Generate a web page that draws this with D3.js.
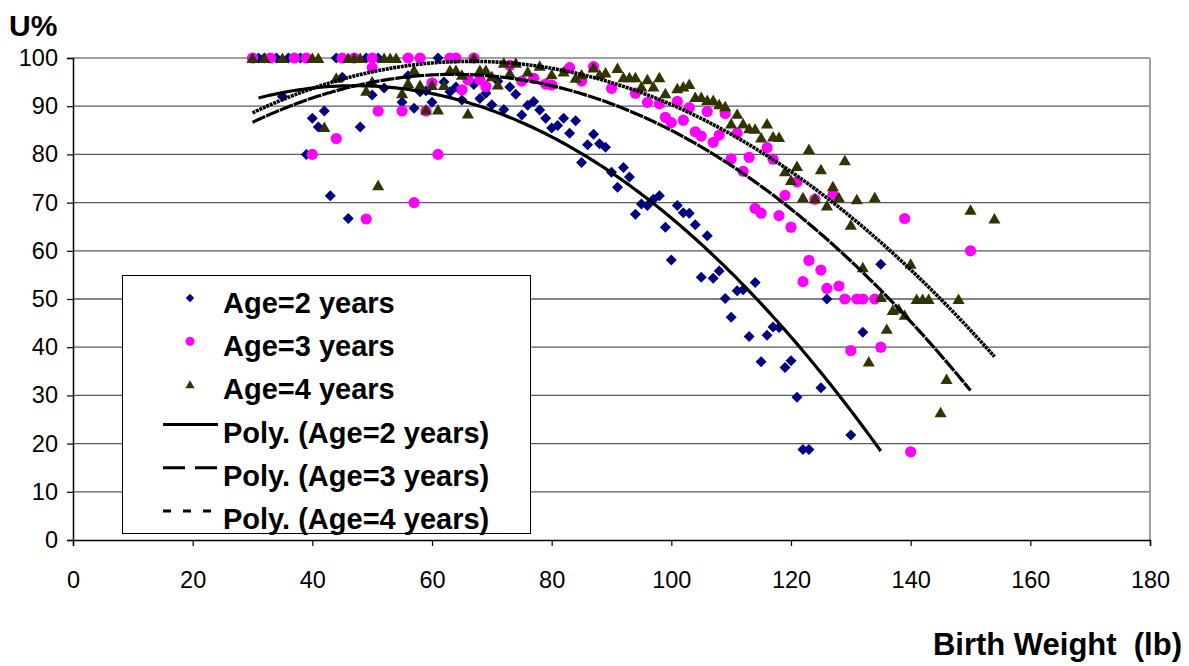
<!DOCTYPE html>
<html>
<head>
<meta charset="utf-8">
<script src="https://cdn.jsdelivr.net/npm/d3@7"></script>
<style>
    body { margin: 0; background: #fff; }
    svg { display: block; font-family: 'Liberation Sans', Arial, sans-serif; }
</style>
</head>
<body>
<script>
(function () {

    'use strict'

    // [birth weight (lb), U%]
    const age2Points = [
        [31, 100], [32, 100], [34, 100], [35, 92], [36, 100], [38, 100], [39, 80], [40, 87.5], [41, 85.7],
        [42, 89], [43, 71.4], [44, 100], [45, 96], [46, 66.7], [48, 85.7], [49, 100], [50, 92.3], [51, 100],
        [52, 93.8], [55, 90.8], [56, 96.3], [57, 89.6], [58, 93], [59, 93.2], [60, 90.8], [61, 100], [62, 95],
        [63, 93], [64, 94], [65, 91.3], [67, 94.5], [68, 91.6], [69, 92.7], [70, 90.3], [71, 95.2], [72, 89.3],
        [73, 94], [74, 92.5], [75, 88.2], [76, 90.2], [77, 91], [78, 89.2], [79, 87.5], [80, 85.5], [81, 86],
        [82, 87.5], [83, 84.4], [84, 87], [85, 78.3], [86, 82], [87, 84.2], [88, 82.2], [89, 81.5], [90, 76.3],
        [91, 73.2], [92, 77.3], [93, 75.3], [94, 67.6], [95, 69.7], [96, 69.4], [97, 70.7], [98, 71.4],
        [99, 64.9], [100, 58.1], [101, 69.4], [102, 67.9], [103, 67.8], [104, 65.4], [105, 54.5], [106, 63.1],
        [107, 54.3], [108, 55.8], [109, 50.1], [110, 46.2], [111, 51.7], [112, 51.9], [113, 42.2], [114, 53.4],
        [115, 37], [116, 42.5], [117, 44.2], [118, 44.1], [119, 35.8], [120, 37.2], [121, 29.6], [122, 18.8],
        [123, 18.8], [125, 31.6], [126, 50], [130, 21.8], [132, 43.1], [135, 57.2]
    ]

    const age3Points = [
        [30, 100], [33, 100], [37, 100], [39, 100], [40, 80], [44, 83.3], [45, 100], [47, 100], [49, 66.6],
        [50, 100], [50, 98], [51, 89], [55, 89], [56, 100], [57, 70], [58, 100], [59, 89], [60, 94.8], [61, 80],
        [63, 100], [64, 100], [65, 93.4], [66, 95.5], [67, 100], [68, 95.5], [69, 94.1], [73, 98.5], [75, 95.2],
        [77, 95.8], [79, 94.6], [80, 94.4], [83, 98], [85, 95.2], [87, 98.2], [90, 93.7], [94, 92.7], [96, 90.8],
        [98, 90.5], [99, 87.7], [100, 86.6], [101, 91], [102, 87.1], [103, 89.7], [104, 84.7], [105, 83.8],
        [106, 88.9], [107, 82.5], [108, 84], [109, 88.5], [110, 79.1], [111, 84.4], [112, 76.5], [113, 79.4],
        [114, 68.8], [115, 67.8], [116, 81.4], [117, 79], [118, 67.3], [119, 71.5], [120, 64.9], [121, 74.3],
        [122, 53.6], [123, 58], [124, 70.7], [125, 56], [126, 52.2], [127, 71.6], [128, 52.7], [129, 50],
        [130, 39.3], [131, 50], [132, 50], [134, 50], [135, 40], [139, 66.7], [140, 18.3], [150, 60]
    ]

    const age4Points = [
        [30, 100], [32, 100], [35, 100], [40, 100], [41, 100], [42, 85.7], [44, 95.9], [46, 100], [47, 100],
        [48, 100], [49, 93.2], [50, 95.1], [51, 73.6], [52, 100], [53, 100], [54, 100], [55, 92.7], [56, 94.8],
        [57, 97.5], [58, 94.4], [59, 89.3], [60, 94.4], [61, 89.3], [62, 94.4], [63, 97.5], [64, 97.5],
        [65, 96.5], [66, 88.5], [67, 100], [68, 97.5], [69, 97.5], [70, 96.2], [71, 94.5], [72, 99], [73, 96.9],
        [74, 99], [76, 97.2], [78, 98.4], [80, 96.6], [82, 97.2], [84, 95.9], [85, 96.6], [87, 98], [88, 96.6],
        [89, 97], [91, 97.9], [92, 96], [93, 96], [94, 96], [95, 94.1], [96, 95.6], [97, 94.1], [98, 96],
        [99, 92.7], [101, 93.7], [102, 94.1], [103, 94.6], [104, 91.9], [105, 91.9], [106, 91.3], [107, 91.3],
        [108, 90.4], [109, 90], [110, 86.4], [111, 88.4], [112, 86.4], [113, 85.4], [114, 85.3], [115, 83.5],
        [116, 86.4], [117, 83.7], [118, 83.6], [119, 76.5], [120, 74.7], [121, 77.6], [122, 71.1], [123, 81.1],
        [124, 70.9], [125, 76.9], [126, 69.4], [127, 73.4], [128, 71.1], [129, 78.8], [130, 65.4], [131, 70.7],
        [132, 56.6], [133, 37], [134, 71.1], [135, 50.4], [136, 43.8], [137, 47.7], [138, 48], [139, 46.7],
        [140, 57.3], [141, 50], [142, 50], [143, 50], [145, 26.5], [146, 33.4], [148, 50], [150, 68.5], [154, 66.7]
    ]

    const xTicks = [0, 20, 40, 60, 80, 100, 120, 140, 160, 180]
    const yTicks = [0, 10, 20, 30, 40, 50, 60, 70, 80, 90, 100]
    const seriesNames = ['Age=2 years', 'Age=3 years', 'Age=4 years']

    const width = 1189
        , height = 666
        , plot = { left: 73, right: 1150, top: 58, bottom: 540 }

    const series = [
        { name: seriesNames[0], points: age2Points, color: '#000080', shape: 'diamond', dash: null, lw: 3.2 },
        { name: seriesNames[1], points: age3Points, color: '#ff00ff', shape: 'circle', dash: '14,1', lw: 3.2 },
        { name: seriesNames[2], points: age4Points, color: '#333300', shape: 'triangle', dash: '3,0.8', lw: 3.6 }
    ]

    const svg = d3.select('body')
        .append('svg')
        .attr('width', width)
        .attr('height', height)

    const xScale = d3.scaleLinear().domain([0, 180]).range([plot.left, plot.right])
    const yScale = d3.scaleLinear().domain([0, 100]).range([plot.bottom, plot.top])

    // gridlines
    svg.append('g')
        .selectAll('line')
        .data(yTicks.filter(d => d > 0))
        .enter()
        .append('line')
        .attr('x1', plot.left)
        .attr('x2', plot.right)
        .attr('y1', d => yScale(d))
        .attr('y2', d => yScale(d))
        .attr('stroke', d => d === 100 ? '#a0a0a0' : '#5a5a5a')
        .attr('stroke-width', d => d === 100 ? 2 : 1.3)

    // right border of plot
    svg.append('line')
        .attr('x1', plot.right).attr('x2', plot.right)
        .attr('y1', plot.top).attr('y2', plot.bottom)
        .attr('stroke', '#a0a0a0')
        .attr('stroke-width', 2)

    // axes
    const xAxis = svg.append('g')
        .attr('transform', 'translate(0,' + plot.bottom + ')')
        .call(d3.axisBottom(xScale).tickValues(xTicks).tickSize(6).tickPadding(25))
    const yAxis = svg.append('g')
        .attr('transform', 'translate(' + plot.left + ',0)')
        .call(d3.axisLeft(yScale).tickValues(yTicks).tickSize(6).tickPadding(9))

    ;[xAxis, yAxis].forEach(ax => {
        ax.select('.domain').attr('stroke', '#000').attr('stroke-width', 1.5)
        ax.selectAll('.tick line').attr('stroke', '#000').attr('stroke-width', 1.2)
        ax.selectAll('.tick text')
            .attr('fill', '#000')
            .style('font-size', '23.5px')
            .style('font-family', "'Liberation Sans', Arial, sans-serif")
    })

    // marker paths, centred on 0,0
    function markerPath(shape, s) {
        if (shape === 'diamond') return 'M0,' + (-s) + 'L' + s + ',0L0,' + s + 'L' + (-s) + ',0Z'
        return 'M0,' + (-s) + 'L' + (s * 1.1) + ',' + (s * 0.9) + 'L' + (-s * 1.1) + ',' + (s * 0.9) + 'Z'
    }

    function drawMarkers(g, shape, color, s) {
        if (shape === 'circle') {
            g.append('circle').attr('r', s).attr('fill', color)
        } else {
            g.append('path').attr('d', markerPath(shape, s)).attr('fill', color)
        }
    }

    series.forEach(sr => {
        const g = svg.append('g')
        g.selectAll('g')
            .data(sr.points)
            .enter()
            .append('g')
            .attr('transform', d => 'translate(' + xScale(d[0]) + ',' + yScale(d[1]) + ')')
            .each(function () {
                drawMarkers(d3.select(this), sr.shape, sr.color, sr.shape === 'circle' ? 5.6 : 5.5)
            })
    })

    // second order least squares fit, like the spreadsheet's "Poly." trendline
    function polyFit2(pts) {
        const s = [0, 0, 0, 0, 0], t = [0, 0, 0]
        pts.forEach(p => {
            let xp = 1
            for (let k = 0; k < 5; k++) {
                s[k] += xp
                if (k < 3) t[k] += xp * p[1]
                xp *= p[0]
            }
        })
        const m = [[s[0], s[1], s[2], t[0]], [s[1], s[2], s[3], t[1]], [s[2], s[3], s[4], t[2]]]
        for (let i = 0; i < 3; i++) {
            for (let j = i + 1; j < 3; j++) {
                const f = m[j][i] / m[i][i]
                for (let k = i; k < 4; k++) m[j][k] -= f * m[i][k]
            }
        }
        const c = [0, 0, 0]
        for (let i = 2; i >= 0; i--) {
            let v = m[i][3]
            for (let k = i + 1; k < 3; k++) v -= m[i][k] * c[k]
            c[i] = v / m[i][i]
        }
        return c
    }

    const line = d3.line()
        .x(d => xScale(d[0]))
        .y(d => yScale(d[1]))

    series.forEach(sr => {
        const c = polyFit2(sr.points)
        const ext = d3.extent(sr.points, d => d[0])
        const curve = d3.range(ext[0], ext[1] + 0.01, 0.5).map(x => [x, c[0] + c[1] * x + c[2] * x * x])
        svg.append('path')
            .datum(curve)
            .attr('d', line)
            .attr('fill', 'none')
            .attr('stroke', '#000')
            .attr('stroke-width', sr.lw)
            .attr('stroke-dasharray', sr.dash)
    })

    // legend
    const legend = svg.append('g')
    legend.append('rect')
        .attr('x', 122.5).attr('y', 275.5)
        .attr('width', 408).attr('height', 258)
        .attr('fill', '#fff')
        .attr('stroke', '#000')
        .attr('stroke-width', 1)

    const legendItems = seriesNames.map((n, i) => ({ label: n, kind: 'marker', sr: series[i] }))
        .concat(seriesNames.map((n, i) => ({ label: 'Poly. (' + n + ')', kind: 'line', sr: series[i] })))

    const legendDash = [null, '22,10', '8,12']

    legendItems.forEach((it, i) => {
        const cy = 300 + i * 43.2
        if (it.kind === 'marker') {
            const g = legend.append('g').attr('transform', 'translate(190,' + (cy - 2) + ')')
            drawMarkers(g, it.sr.shape, it.sr.color, it.sr.shape === 'circle' ? 4.5 : 4.2)
        } else {
            legend.append('line')
                .attr('x1', 163).attr('x2', 218)
                .attr('y1', cy - 5).attr('y2', cy - 5)
                .attr('stroke', '#000')
                .attr('stroke-width', 3)
                .attr('stroke-dasharray', legendDash[i - 3])
        }
        legend.append('text')
            .attr('x', 223)
            .attr('y', cy + 13)
            .style('font-size', '29px')
            .style('font-weight', 'bold')
            .text(it.label)
    })

    // axis titles
    svg.append('text')
        .attr('x', 9)
        .attr('y', 36)
        .style('font-size', '30px')
        .style('font-weight', 'bold')
        .text('U%')

    svg.append('text')
        .attr('x', 1182)
        .attr('y', 655)
        .attr('text-anchor', 'end')
        .style('font-size', '31px')
        .style('font-weight', 'bold')
        .style('white-space', 'pre')
        .text('Birth Weight  (lb)')
})()
</script>
</body>
</html>
